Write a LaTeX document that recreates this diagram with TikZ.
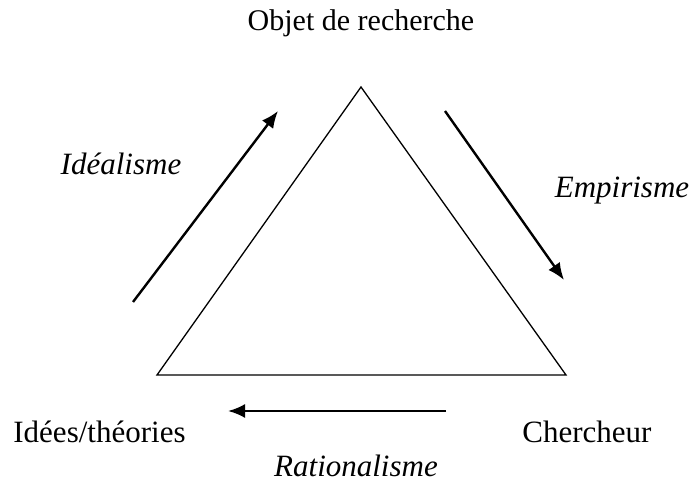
\documentclass[tikz,border=0pt]{standalone}
\usepackage{fontspec}
\setmainfont{Liberation Serif}
\usetikzlibrary{arrows.meta}
\tikzset{
  lbl/.style={inner sep=0pt, anchor=base, font=\fontsize{15.5}{19}\selectfont},
  ilbl/.style={lbl, font=\fontsize{15.5}{19}\selectfont\itshape},
  tri/.style={line width=0.65pt, line join=miter},
  flow/.style={line width=1.2pt, -{Latex[length=8.5pt,width=7pt]}}
}
\begin{document}
\begin{tikzpicture}[x=0.5pt,y=-0.5pt]
\useasboundingbox (0,0) rectangle (691,486);
% triangle vertices
\coordinate (apex) at (361,87);
\coordinate (bl) at (157,375);
\coordinate (br) at (566,375);
\draw[tri] (apex) -- (bl) -- (br) -- cycle;
% labels
\node[lbl, font=\fontsize{15}{18}\selectfont] (objet) at (361,31) {Objet de recherche};
\node[lbl, anchor=base west] (idees) at (13,442) {Idées/théories};
\node[lbl, anchor=base west] (cherch) at (522,442) {Chercheur};
\node[ilbl] (ratio) at (356,476) {Rationalisme};
\node[ilbl] (ideal) at (121,175) {Idéalisme};
\node[ilbl] (empir) at (622,198) {Empirisme};
% arrow end points
\coordinate (ia) at (133,302);
\coordinate (ib) at (278,111);
\coordinate (ea) at (445,111);
\coordinate (eb) at (564,280);
\coordinate (ra) at (446,411);
\coordinate (rb) at (228,411);
\draw[flow] (ia) -- (ib);
\draw[flow] (ea) -- (eb);
\draw[flow] (ra) -- (rb);
\end{tikzpicture}
\end{document}
